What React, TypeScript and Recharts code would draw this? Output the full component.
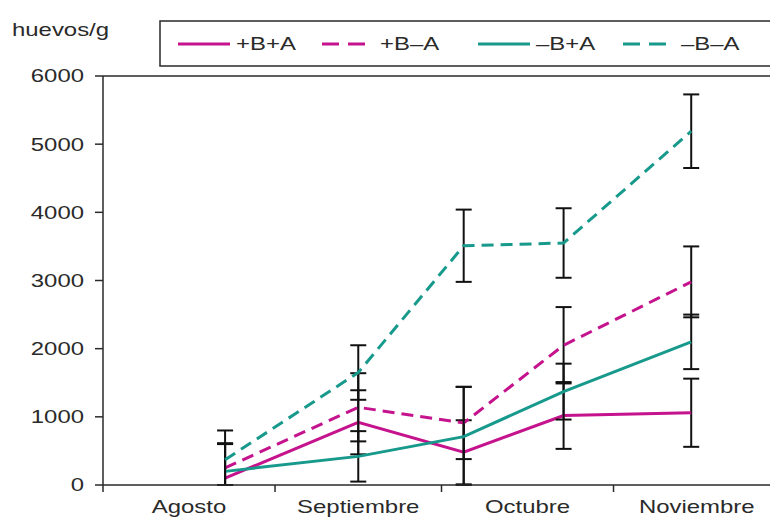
import React from 'react';
import { LineChart, Line, XAxis, YAxis, ErrorBar, ReferenceLine } from 'recharts';

// Sampling dates, counted in days after 1 August
const sampleDays = [22, 46, 65, 83, 106];

// Month bands on the date axis (day offsets of each month start)
const monthNames = ['Agosto', 'Septiembre', 'Octubre', 'Noviembre'];
const monthStarts = [0, 31, 61, 92, 122];

const yTicks = [0, 1000, 2000, 3000, 4000, 5000, 6000];

const seriesNames = ['+B+A', '+B–A', '–B+A', '–B–A'];

// huevos/g per treatment and its error
const plusBplusA = [100, 920, 480, 1020, 1060];
const plusBplusAErr = [500, 470, 470, 490, 500];

const plusBminusA = [250, 1140, 910, 2050, 2980];
const plusBminusAErr = [360, 500, 530, 560, 520];

const minusBplusA = [200, 420, 710, 1370, 2100];
const minusBplusAErr = [410, 370, 730, 410, 400];

const minusBminusA = [370, 1650, 3510, 3550, 5190];
const minusBminusAErr = [430, 400, 530, 510, 540];

const MAGENTA = '#C4138D';
const TEAL = '#17998C';
const INK = '#2a2a2a';
const FONT = '"Liberation Sans", Arial, sans-serif';
const FS = 18;
const SX = 1.33;

const series = [
  { key: 's0', err: 'e0', name: seriesNames[0], color: MAGENTA, dash: undefined },
  { key: 's1', err: 'e1', name: seriesNames[1], color: MAGENTA, dash: '12 7' },
  { key: 's2', err: 'e2', name: seriesNames[2], color: TEAL, dash: undefined },
  { key: 's3', err: 'e3', name: seriesNames[3], color: TEAL, dash: '12 7' },
];

// error bars stop at the zero line of the axis
const bounded = (v: number, e: number) => [Math.min(e, v), e];

const rows = sampleDays.map((day, i) => ({
  day,
  s0: plusBplusA[i],
  e0: bounded(plusBplusA[i], plusBplusAErr[i]),
  s1: plusBminusA[i],
  e1: bounded(plusBminusA[i], plusBminusAErr[i]),
  s2: minusBplusA[i],
  e2: bounded(minusBplusA[i], minusBplusAErr[i]),
  s3: minusBminusA[i],
  e3: bounded(minusBminusA[i], minusBminusAErr[i]),
}));

const monthMids = monthNames.map((_, i) => (monthStarts[i] + monthStarts[i + 1]) / 2);
const xTicks = [...monthStarts, ...monthMids].sort((a, b) => a - b);

const YTick = (props: any) => {
  const { x, y, payload } = props;
  return (
    <text
      transform={`translate(${x},${y}) scale(${SX},1)`}
      textAnchor="end"
      dy="0.36em"
      fontSize={FS}
      fontFamily={FONT}
      fill={INK}
    >
      {payload.value}
    </text>
  );
};

const XTick = (props: any) => {
  const { x, y, payload } = props;
  const v = payload.value;
  if (monthStarts.includes(v)) {
    return <line x1={x} y1={y} x2={x} y2={y + 7} stroke={INK} strokeWidth={1.5} />;
  }
  const idx = monthMids.indexOf(v);
  return (
    <text
      transform={`translate(${x},${y + 28}) scale(${SX},1)`}
      textAnchor="middle"
      fontSize={FS}
      fontFamily={FONT}
      fill={INK}
    >
      {monthNames[idx]}
    </text>
  );
};

const legendItemX = [178, 322, 478, 623];

const Overlay = () => (
  <svg
    width={770}
    height={80}
    style={{ position: 'absolute', left: 0, top: 0, pointerEvents: 'none' }}
  >
    <text
      transform={`translate(12,36) scale(${SX},1)`}
      fontSize={FS}
      fontFamily={FONT}
      fill={INK}
    >
      huevos/g
    </text>
    <rect x={160} y={21} width={640} height={45} fill="#fff" stroke={INK} strokeWidth={1.5} />
    {series.map((s, i) => (
      <g key={s.key}>
        <line
          x1={legendItemX[i]}
          y1={44}
          x2={legendItemX[i] + 52}
          y2={44}
          stroke={s.color}
          strokeWidth={3}
          strokeDasharray={s.dash ? '17 9' : undefined}
        />
        <text
          transform={`translate(${legendItemX[i] + 58},50) scale(${SX},1)`}
          fontSize={FS}
          fontFamily={FONT}
          fill={INK}
        >
          {s.name}
        </text>
      </g>
    ))}
  </svg>
);

export default function App() {
  return (
    <div
      style={{
        position: 'absolute',
        left: 0,
        top: 0,
        width: 770,
        height: 517,
        overflow: 'hidden',
        background: '#fff',
      }}
    >
      <LineChart
        width={800}
        height={517}
        data={rows}
        margin={{ top: 76, right: 20, bottom: 0, left: 0 }}
      >
        <XAxis
          dataKey="day"
          type="number"
          domain={[0, 122]}
          ticks={xTicks}
          interval={0}
          tick={<XTick />}
          tickLine={false}
          tickSize={0}
          tickMargin={0}
          height={32}
          axisLine={{ stroke: INK, strokeWidth: 1.5 }}
          allowDataOverflow
        />
        <YAxis
          type="number"
          domain={[0, 6000]}
          ticks={yTicks}
          interval={0}
          width={103}
          tick={<YTick />}
          tickSize={8}
          tickMargin={11}
          tickLine={{ stroke: INK, strokeWidth: 1.5 }}
          axisLine={{ stroke: INK, strokeWidth: 1.5 }}
          allowDataOverflow
        />
        <ReferenceLine y={6000} stroke={INK} strokeWidth={1.5} />
        <ReferenceLine x={122} stroke={INK} strokeWidth={1.5} />
        {series.map((s) => (
          <Line
            key={s.key}
            type="linear"
            dataKey={s.key}
            name={s.name}
            stroke={s.color}
            strokeWidth={3}
            strokeDasharray={s.dash}
            dot={false}
            activeDot={false}
            isAnimationActive={false}
          >
            <ErrorBar
              dataKey={s.err}
              direction="y"
              width={8}
              stroke="#111"
              strokeWidth={2}
              isAnimationActive={false}
            />
          </Line>
        ))}
      </LineChart>
      <Overlay />
    </div>
  );
}
